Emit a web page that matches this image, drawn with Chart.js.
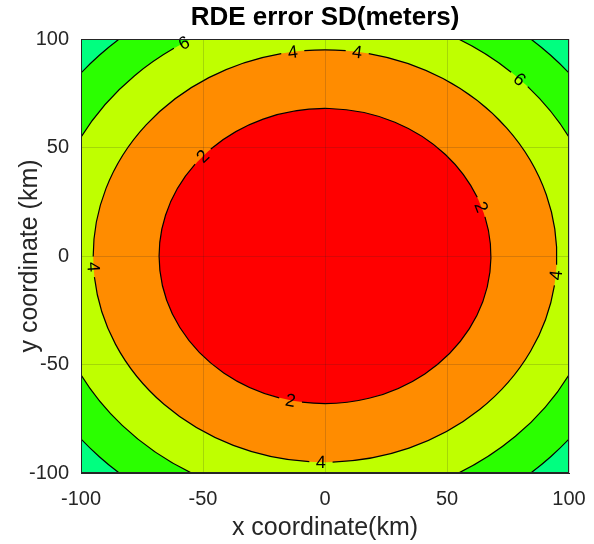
<!DOCTYPE html>
<html>
<head>
<meta charset="utf-8">
<script src="https://cdn.jsdelivr.net/npm/chart.js@4.4.1/dist/chart.umd.min.js"></script>
<style>
  html, body { margin: 0; padding: 0; background: #fff; }
</style>
</head>
<body>
<canvas id="contourChart" width="594" height="544"></canvas>
<script>
// contour levels and the radius (km) each one sits at
const levels = [2, 4, 6, 8];
const levelRadius = [68, 95, 114, 130.8];
// fill colours: inside level 2 first, then each band outward
const bandColors = ["#ff0000", "#ff8c00", "#bfff00", "#2bff00", "#00ff80"];
// inline contour labels: which level, and angle (deg) round the centre
const labelLevels = [6, 4, 4, 6, 2, 2, 4, 4, 2, 4];
const labelAngles = [120.5, 98, 82, 45.6, 137.5, 19.4, 183, -5.3, -102, -91];
const tickValues = [-100, -50, 0, 50, 100];

const FONT = "'Liberation Sans', Arial, Helvetica, sans-serif";
const AXIS_COLOR = "#262626";

// draws the filled contours + lines + labels under the grid
const contourPlugin = {
  id: "contour",
  beforeDraw(chart) {
    const ctx = chart.ctx;
    const area = chart.chartArea;
    const xs = chart.scales.x;
    const ys = chart.scales.y;
    const cx = xs.getPixelForValue(0);
    const cy = ys.getPixelForValue(0);
    const rx = r => xs.getPixelForValue(r) - cx;
    const ry = r => cy - ys.getPixelForValue(r);

    ctx.save();
    ctx.beginPath();
    ctx.rect(area.left, area.top, area.right - area.left, area.bottom - area.top);
    ctx.clip();

    ctx.fillStyle = bandColors[levels.length];
    ctx.fillRect(area.left, area.top, area.right - area.left, area.bottom - area.top);
    for (let i = levels.length - 1; i >= 0; i--) {
      ctx.beginPath();
      ctx.ellipse(cx, cy, rx(levelRadius[i]), ry(levelRadius[i]), 0, 0, 2 * Math.PI);
      ctx.fillStyle = bandColors[i];
      ctx.fill();
    }

    // contour lines, broken where a label sits
    ctx.strokeStyle = "#000";
    ctx.lineWidth = 1.2;
    levels.forEach((lv, i) => {
      const a = rx(levelRadius[i]);
      const b = ry(levelRadius[i]);
      const gap = 11 / ((a + b) / 2);
      const ts = [];
      labelLevels.forEach((l, j) => {
        if (l === lv) ts.push(-labelAngles[j] * Math.PI / 180);
      });
      ts.sort((p, q) => p - q);
      if (!ts.length) {
        ctx.beginPath();
        ctx.ellipse(cx, cy, a, b, 0, 0, 2 * Math.PI);
        ctx.stroke();
        return;
      }
      for (let k = 0; k < ts.length; k++) {
        const start = ts[k] + gap;
        const end = (k + 1 < ts.length ? ts[k + 1] : ts[0] + 2 * Math.PI) - gap;
        ctx.beginPath();
        ctx.ellipse(cx, cy, a, b, 0, start, end);
        ctx.stroke();
      }
    });
    ctx.restore();

    // labels (not clipped, matlab lets them poke out)
    ctx.save();
    ctx.font = "18px " + FONT;
    ctx.fillStyle = "#000";
    ctx.textAlign = "center";
    ctx.textBaseline = "middle";
    labelLevels.forEach((lv, j) => {
      const i = levels.indexOf(lv);
      const a = rx(levelRadius[i]);
      const b = ry(levelRadius[i]);
      const t = -labelAngles[j] * Math.PI / 180;
      const px = cx + a * Math.cos(t);
      const py = cy + b * Math.sin(t);
      let rot = Math.atan2(b * Math.cos(t), -a * Math.sin(t));
      if (rot > Math.PI / 2) rot -= Math.PI;
      if (rot < -Math.PI / 2) rot += Math.PI;
      ctx.save();
      ctx.translate(px, py);
      ctx.rotate(rot);
      ctx.fillText(String(lv), 0, 1);
      ctx.restore();
    });
    ctx.restore();
  },
  afterDraw(chart) {
    const ctx = chart.ctx;
    const area = chart.chartArea;
    ctx.save();
    ctx.strokeStyle = AXIS_COLOR;
    ctx.lineWidth = 1;
    ctx.strokeRect(Math.round(area.left) + 0.5, Math.round(area.top) + 0.5,
      Math.round(area.right - area.left) - 1, Math.round(area.bottom - area.top) - 1);
    ctx.restore();
  }
};

function axisOptions(label, isX) {
  return {
    type: "linear",
    min: -100,
    max: 100,
    afterBuildTicks: s => { s.ticks = tickValues.map(v => ({ value: v })); },
    afterFit: s => {
      if (isX) {
        s.height = 71;
        s.paddingRight = 0;
        s.paddingLeft = 0;
      } else {
        s.width = 81;
      }
    },
    ticks: {
      font: { family: FONT, size: 20 },
      color: AXIS_COLOR,
      padding: isX ? 14 : 12,
      maxRotation: 0
    },
    grid: {
      color: "rgba(38,38,38,0.18)",
      drawTicks: false
    },
    border: { display: true, color: AXIS_COLOR },
    title: {
      display: true,
      text: label,
      font: { family: FONT, size: 25 },
      color: AXIS_COLOR,
      padding: isX ? { top: 0, bottom: 1 } : { top: 15, bottom: 0 }
    }
  };
}

let contourChart = new Chart(document.getElementById("contourChart"), {
  type: "scatter",
  data: { datasets: [] },
  options: {
    responsive: false,
    animation: false,
    devicePixelRatio: 1,
    layout: { padding: { top: 0, right: 25, bottom: 0, left: 0 } },
    plugins: {
      legend: { display: false },
      tooltip: { enabled: false },
      title: {
        display: true,
        fullSize: false,
        text: "RDE error SD(meters)",
        color: "#000",
        font: { family: FONT, size: 26, weight: "bold" },
        padding: { top: 2, bottom: 5.8 }
      }
    },
    scales: {
      x: axisOptions("x coordinate(km)", true),
      y: axisOptions("y coordinate (km)", false)
    }
  },
  plugins: [contourPlugin]
});
</script>
</body>
</html>
